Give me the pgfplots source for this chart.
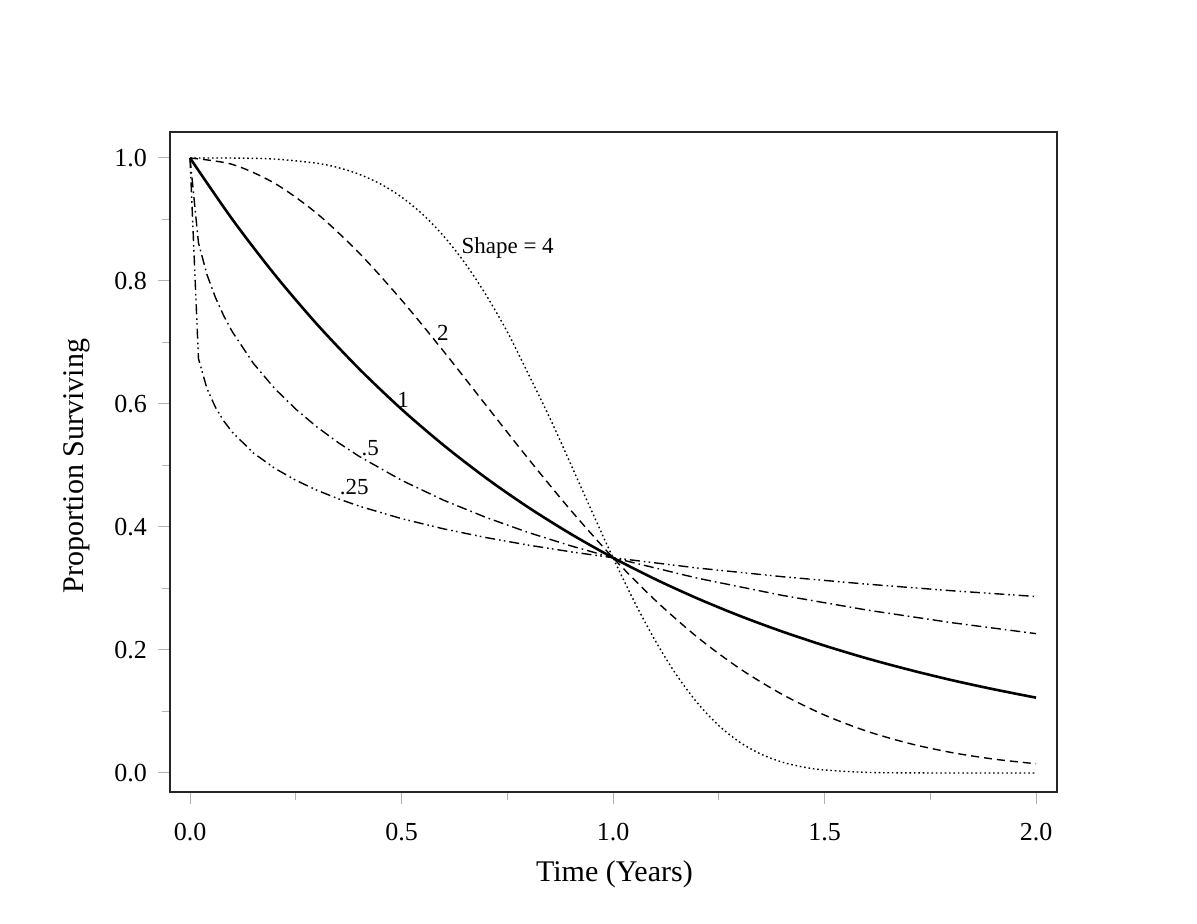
\documentclass[border=0pt]{standalone}
\usepackage{fontspec}
\setmainfont{Liberation Serif}
\usepackage{pgfplots}
\pgfplotsset{compat=1.18}
\begin{document}
\begin{tikzpicture}
\useasboundingbox (-85pt,-66pt) rectangle (513.5pt,396pt);
\begin{axis}[
  at={(0pt,0pt)}, anchor=south west,
  scale only axis, width=443.5pt, height=330pt,
  xmin=-0.0473, xmax=2.0496, ymin=-0.0309, ymax=1.0423,
  xtick={0,0.5,1,1.5,2}, ytick={0,0.2,0.4,0.6,0.8,1.0},
  minor xtick={0.25,0.75,1.25,1.75}, minor ytick={0.1,0.3,0.5,0.7,0.9},
  xticklabels={0.0,0.5,1.0,1.5,2.0}, yticklabels={0.0,0.2,0.4,0.6,0.8,1.0},
  tick align=outside, major tick length=6pt, minor tick length=4pt,
  every tick/.style={gray!60, line width=0.5pt},
  tick label style={font=\fontsize{13}{15}\selectfont},
  xticklabel style={yshift=-6pt},
  yticklabel style={xshift=-2pt},
  axis line style={line width=0.7pt, black!85},
  xtick pos=bottom, ytick pos=left,
  xlabel={Time (Years)}, ylabel={Proportion Surviving},
  label style={font=\fontsize{15}{18}\selectfont},
  xlabel style={at={(axis description cs:0.501,-0.124)}, anchor=center},
  ylabel style={at={(axis description cs:-0.105,0.494)}, anchor=center},
  clip=false,
]
% shape = 4 (dotted)
\addplot[black, line width=0.7pt, dash pattern=on 0.8pt off 1.4pt, smooth, tension=0.5] coordinates {
(0,1) (0.1,0.9999) (0.2,0.9983) (0.3,0.9915) (0.35,0.9844) (0.4,0.9735) (0.45,0.9579)
(0.5,0.9365) (0.55,0.9084) (0.6,0.8728) (0.65,0.8291) (0.7,0.7772) (0.75,0.7174)
(0.8,0.6486) (0.85,0.5781) (0.9,0.5022) (0.95,0.4253) (1.0,0.35) (1.05,0.2791)
(1.1,0.2150) (1.15,0.1594) (1.2,0.1134) (1.25,0.0771) (1.3,0.0499) (1.35,0.0306)
(1.4,0.0177) (1.45,0.0096) (1.5,0.0049) (1.6,0.0010) (1.7,0.0002) (1.8,0) (1.9,0) (2.0,0)
};
% shape = 2 (dashed)
\addplot[black, line width=0.7pt, dash pattern=on 4pt off 2.5pt, smooth, tension=0.5] coordinates {
(0,1) (0.1,0.9896) (0.2,0.9589) (0.3,0.9098) (0.4,0.8454) (0.5,0.7691) (0.6,0.6853)
(0.7,0.5978) (0.8,0.5108) (0.9,0.4273) (1.0,0.35) (1.1,0.2808) (1.2,0.2205)
(1.3,0.1696) (1.4,0.1278) (1.5,0.0942) (1.6,0.0680) (1.7,0.0481) (1.8,0.0333)
(1.9,0.0226) (2.0,0.0150)
};
% shape = 1 (solid)
\addplot[black, line width=1.3pt, smooth, tension=0.5] coordinates {
(0,1) (0.1,0.9003) (0.2,0.8106) (0.3,0.7298) (0.4,0.6571) (0.5,0.5916) (0.6,0.5327)
(0.7,0.4796) (0.8,0.4318) (0.9,0.3888) (1.0,0.35) (1.1,0.3151) (1.2,0.2837)
(1.3,0.2554) (1.4,0.2300) (1.5,0.2071) (1.6,0.1864) (1.7,0.1679) (1.8,0.1511)
(1.9,0.1361) (2.0,0.1225)
};
% shape = 0.5 (dash-dot)
\addplot[black, line width=0.7pt, dash pattern=on 5pt off 2pt on 0.8pt off 2pt] coordinates {
(0,1) (0.02,0.8620) (0.04,0.8106) (0.06,0.7733) (0.08,0.7431) (0.1,0.7175)
(0.15,0.6659) (0.2,0.6253) (0.25,0.5916) (0.3,0.5627) (0.35,0.5374) (0.4,0.5148)
(0.5,0.4760) (0.6,0.4434) (0.7,0.4155) (0.8,0.3910) (0.9,0.3694) (1.0,0.35)
(1.2,0.3167) (1.4,0.2888) (1.6,0.2650) (1.8,0.2445) (2.0,0.2266)
};
% shape = 0.25 (dash-dot-dot)
\addplot[black, line width=0.7pt, dash pattern=on 5pt off 2pt on 0.8pt off 1.6pt on 0.8pt off 2pt] coordinates {
(0,1) (0.02,0.6738) (0.04,0.6253) (0.06,0.5948) (0.08,0.5722) (0.1,0.5541)
(0.15,0.5203) (0.2,0.4956) (0.25,0.4760) (0.3,0.4598) (0.35,0.4460) (0.4,0.4339)
(0.5,0.4136) (0.6,0.3969) (0.7,0.3828) (0.8,0.3705) (0.9,0.3597) (1.0,0.35)
(1.2,0.3333) (1.4,0.3192) (1.6,0.3071) (1.8,0.2964) (2.0,0.2870)
};
\node[anchor=west, inner sep=0pt, font=\fontsize{11.5}{13}\selectfont] at (axis cs:0.641,0.854) {Shape = 4};
\node[inner sep=0pt, font=\fontsize{11.5}{13}\selectfont] at (axis cs:0.598,0.715) {2};
\node[inner sep=0pt, font=\fontsize{11.5}{13}\selectfont] at (axis cs:0.504,0.607) {1};
\node[inner sep=0pt, font=\fontsize{11.5}{13}\selectfont] at (axis cs:0.426,0.528) {.5};
\node[inner sep=0pt, font=\fontsize{11.5}{13}\selectfont] at (axis cs:0.388,0.465) {.25};
\end{axis}
\end{tikzpicture}
\end{document}
